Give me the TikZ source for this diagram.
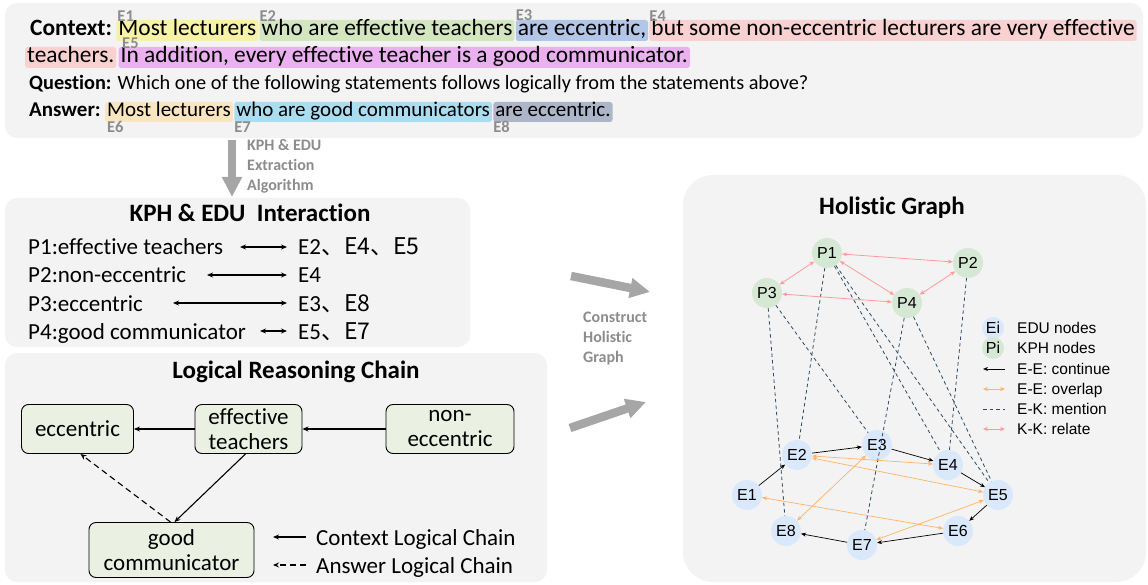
\documentclass[tikz,border=0pt]{standalone}
\usepackage{fontspec}
\setmainfont{Carlito}[Ligatures={NoCommon,NoRare,NoDiscretionary}]
\newfontfamily\arialf{Liberation Sans}
\newfontfamily\cjk{Noto Sans CJK SC}
\usetikzlibrary{arrows.meta}
\newcommand\fsz[1]{\fontsize{#1}{#1}\selectfont}
\definecolor{panelc}{HTML}{F3F3F3}
\definecolor{hy}{HTML}{F6F2A6}
\definecolor{hg}{HTML}{D3E6C0}
\definecolor{hb}{HTML}{B3C6E7}
\definecolor{hp}{HTML}{F9D1D1}
\definecolor{hm}{HTML}{EBB0F0}
\definecolor{ay}{HTML}{F9E5C0}
\definecolor{ac}{HTML}{ABDDF1}
\definecolor{ag}{HTML}{ADB5C8}
\definecolor{labc}{HTML}{8C8C8C}
\definecolor{grayarr}{HTML}{A6A6A6}
\definecolor{boxg}{HTML}{EAF1E3}
\definecolor{pgreen}{HTML}{D5E8D4}
\definecolor{eblue}{HTML}{DAE8FC}
\definecolor{orangec}{HTML}{FFB366}
\definecolor{pinkc}{HTML}{FF9999}
\definecolor{menc}{HTML}{2E4A66}
\begin{document}
\begin{tikzpicture}[x=1pt,y=-1pt,
  panel/.style={fill=panelc,draw=none,rounded corners=12pt},
  hl/.style={anchor=base west,inner xsep=2pt,inner ysep=0pt,rounded corners=2.5pt,text height=16pt,text depth=5pt,font=\fsz{23.4}},
  hla/.style={hl,text height=15pt,text depth=5pt,font=\fsz{21}},
  elab/.style={font=\fsz{16.5}\bfseries,text=labc,inner sep=0pt,anchor=south west},
  kph/.style={anchor=base west,inner sep=0pt,font=\fsz{23}},
  dbl/.style={{Stealth[length=6pt,width=5pt]}-{Stealth[length=6pt,width=5pt]},line width=1.1pt},
  lbox/.style={draw=black,line width=0.9pt,fill=boxg,rounded corners=7pt,align=center,inner ysep=1pt,font=\fontsize{23}{25}\selectfont},
  chain/.style={-{Stealth[length=6pt,width=5pt]},line width=1.1pt},
  bigarrow/.style={line width=8.5pt,draw=grayarr,-{Triangle[length=20pt,width=19pt]}},
  glab/.style={font=\fontsize{16}{20}\selectfont\bfseries,text=labc,align=left,anchor=north west,inner sep=0pt},
  ttl/.style={font=\fsz{25}\bfseries,inner sep=0pt},
  pn/.style={circle,fill=pgreen,minimum size=30pt,inner sep=0pt,font=\arialf\fsz{16}},
  en/.style={circle,fill=eblue,minimum size=30pt,inner sep=0pt,font=\arialf\fsz{16}},
  cont/.style={-{Stealth[length=5pt,width=4pt]},line width=0.7pt,draw=black},
  ovl/.style={{Stealth[length=5pt,width=4pt]}-{Stealth[length=5pt,width=4pt]},line width=0.7pt,draw=orangec},
  men/.style={dash pattern=on 3.5pt off 3pt,draw=menc,line width=0.8pt},
  rel/.style={{Stealth[length=5pt,width=4pt]}-{Stealth[length=5pt,width=4pt]},line width=0.8pt,draw=pinkc},
  leg/.style={anchor=base west,inner sep=0pt,font=\arialf\fsz{15.5}}
]
\useasboundingbox (0,0) rectangle (1148,585);
% panels
\fill[panel] (5,3) rectangle (1143,138);
\fill[panel] (5,198) rectangle (470,347);
\fill[panel] (5,353) rectangle (547,582);
\fill[panelc,rounded corners=30pt] (683,175) rectangle (1146,582);

% ---------- top text ----------
\node[hl] (ctx) at (28,36) {\textbf{Context:}};
\node[hl,fill=hy] (c1) at ([xshift=2pt]ctx.base east) {Most lecturers};
\node[hl,fill=hg] (c2) at ([xshift=1pt]c1.base east) {who are effective teachers};
\node[hl,fill=hb] (c3) at ([xshift=1pt]c2.base east) {are eccentric,};
\node[hl,fill=hp] (c4) at ([xshift=1pt]c3.base east) {but some non-eccentric lecturers are very effective\ };
\node[hl,fill=hp] (c5) at (25,63) {teachers.};
\node[hl,fill=hm] (c6) at ([xshift=2pt]c5.base east) {In addition, every effective teacher is a good communicator.\ };
\node[anchor=base west,inner sep=0pt,font=\fsz{20.3}] (q) at (29,90) {\textbf{Question:} Which one of the following statements follows logically from the statements above?};
\node[hla] (ans) at (27,117) {\textbf{Answer:}};
\node[hla,fill=ay] (a1) at ([xshift=2pt]ans.base east) {Most lecturers};
\node[hla,fill=ac] (a2) at ([xshift=1pt]a1.base east) {who are good communicators};
\node[hla,fill=ag] (a3) at ([xshift=1pt]a2.base east) {are eccentric.};
\node[elab] (e1l) at ([xshift=1pt,yshift=-1.5pt]c1.north west) {E1};
\node[elab] (e2l) at ([xshift=0pt,yshift=-1.5pt]c2.north west) {E2};
\node[elab] (e3l) at ([xshift=0pt,yshift=-1.5pt]c3.north west) {E3};
\node[elab] (e4l) at ([xshift=0pt,yshift=-1.5pt]c4.north west) {E4};
\node[elab] (e5l) at (122,49) {E5};
\node[elab,anchor=north west] (e6l) at ([xshift=2pt,yshift=1pt]a1.south west) {E6};
\node[elab,anchor=north west] (e7l) at ([xshift=0pt,yshift=1pt]a2.south west) {E7};
\node[elab,anchor=north west] (e8l) at ([xshift=0pt,yshift=1pt]a3.south west) {E8};

% ---------- extraction arrow ----------
\coordinate (xa) at (232,140);
\coordinate (xb) at (232,197);
\draw[bigarrow] (xa) -- (xb);
\node[glab] (xl) at (247,139) {KPH \& EDU\\Extraction\\Algorithm};

% ---------- KPH & EDU interaction ----------
\node[ttl] (kt) at (250,213) {KPH \& EDU\ \ Interaction};
\node[kph] (k1) at (28,255) {P1:effective teachers};
\node[kph] (k2) at (28,283) {P2:non-eccentric};
\node[kph] (k3) at (28,311) {P3:eccentric};
\node[kph] (k4) at (28,339) {P4:good communicator};
\node[kph] (r1) at (298,255) {E2\cjk{、}E4\cjk{、}E5};
\node[kph] (r2) at (298,283) {E4};
\node[kph] (r3) at (298,311) {E3\cjk{、}E8};
\node[kph] (r4) at (298,339) {E5\cjk{、}E7};
\coordinate (k1a) at (240,247); \coordinate (k1b) at (287,247);
\coordinate (k2a) at (207,275); \coordinate (k2b) at (287,275);
\coordinate (k3a) at (173,303); \coordinate (k3b) at (287,303);
\coordinate (k4a) at (260,331); \coordinate (k4b) at (287,331);
\draw[dbl] (k1a) -- (k1b);
\draw[dbl] (k2a) -- (k2b);
\draw[dbl] (k3a) -- (k3b);
\draw[dbl] (k4a) -- (k4b);

% ---------- Logical reasoning chain ----------
\node[ttl] (lt) at (296,372) {Logical Reasoning Chain};
\node[lbox,minimum width=112pt,minimum height=49pt] (ecc) at (77.5,429) {eccentric};
\node[lbox,minimum width=107pt,minimum height=49pt] (eff) at (248.5,429) {effective\\teachers};
\node[lbox,minimum width=128pt,minimum height=49pt] (non) at (450,429) {non-\\eccentric};
\node[lbox,minimum width=165pt,minimum height=55pt] (good) at (171.5,550) {good\\communicator};
\draw[chain] (eff) -- (ecc);
\draw[chain] (non) -- (eff);
\draw[chain] ([xshift=-3pt]eff.south) -- ([xshift=3pt]good.north);
\draw[chain,dash pattern=on 6pt off 4pt] ([xshift=-1pt]good.north) -- ([xshift=3pt]ecc.south);
\coordinate (lg1a) at (306,537); \coordinate (lg1b) at (273,537);
\coordinate (lg2a) at (306,565); \coordinate (lg2b) at (273,565);
\draw[chain] (lg1a) -- (lg1b);
\draw[chain,dash pattern=on 6pt off 4pt] (lg2a) -- (lg2b);
\node[kph] (lg1) at (316,545) {Context Logical Chain};
\node[kph] (lg2) at (316,573) {Answer Logical Chain};

% ---------- construct arrows ----------
\coordinate (ca1) at (571,276); \coordinate (cb1) at (650,292);
\coordinate (ca2) at (570,428); \coordinate (cb2) at (646,402);
\draw[bigarrow] (ca1) -- (cb1);
\draw[bigarrow] (ca2) -- (cb2);
\node[glab] (cl) at (583,312) {Construct\\Holistic\\Graph};

% ---------- Holistic graph ----------
\node[ttl] (ht) at (892,208) {Holistic Graph};
\node[pn] (P1) at (827,253) {P1};
\node[pn] (P2) at (968,263) {P2};
\node[pn] (P3) at (767,293) {P3};
\node[pn] (P4) at (907,303) {P4};
\node[en] (E1) at (747,495) {E1};
\node[en] (E2) at (797,455) {E2};
\node[en] (E3) at (877,445) {E3};
\node[en] (E4) at (948,465) {E4};
\node[en] (E5) at (998,495) {E5};
\node[en] (E6) at (958,531) {E6};
\node[en] (E7) at (862,545) {E7};
\node[en] (E8) at (786,531) {E8};
% mentions
\draw[men] (P1) -- (E2);
\draw[men] (P1) -- (E4);
\draw[men] (P1) -- (E5);
\draw[men] (P2) -- (E4);
\draw[men] (P3) -- (E8);
\draw[men] (P3) -- (E3);
\draw[men] (P4) -- (E7);
\draw[men] (P4) -- (E5);
% relate
\draw[rel] (P1) -- (P2);
\draw[rel] (P1) -- (P3);
\draw[rel] (P1) -- (P4);
\draw[rel] (P3) -- (P4);
\draw[rel] (P2) -- (P4);
% continue
\draw[cont] (E1) -- (E2);
\draw[cont] (E2) -- (E3);
\draw[cont] (E3) -- (E4);
\draw[cont] (E4) -- (E5);
\draw[cont] (E5) -- (E6);
\draw[cont] (E6) -- (E7);
\draw[cont] (E7) -- (E8);
% overlap
\draw[ovl] (E2) -- (E4);
\draw[ovl] (E2) -- (E5);
\draw[ovl] (E1) -- (E6);
\draw[ovl] (E3) -- (E8);
\draw[ovl] (E5) -- (E7);
% legend
\node[en,minimum size=22pt] (lei) at (993,328) {Ei};
\node[pn,minimum size=22pt] (lpi) at (993,348) {Pi};
\node[leg] (t1) at (1017,333.5) {EDU nodes};
\node[leg] (t2) at (1017,353.5) {KPH nodes};
\node[leg] (t3) at (1017,374.5) {E-E: continue};
\node[leg] (t4) at (1017,394.5) {E-E: overlap};
\node[leg] (t5) at (1017,414.5) {E-K: mention};
\node[leg] (t6) at (1017,434.5) {K-K: relate};
\coordinate (m3a) at (1005,369); \coordinate (m3b) at (983,369);
\coordinate (m4a) at (983,389); \coordinate (m4b) at (1005,389);
\coordinate (m5a) at (983,409); \coordinate (m5b) at (1005,409);
\coordinate (m6a) at (983,429); \coordinate (m6b) at (1005,429);
\draw[cont] (m3a) -- (m3b);
\draw[ovl] (m4a) -- (m4b);
\draw[men] (m5a) -- (m5b);
\draw[rel] (m6a) -- (m6b);
\end{tikzpicture}
\end{document}
